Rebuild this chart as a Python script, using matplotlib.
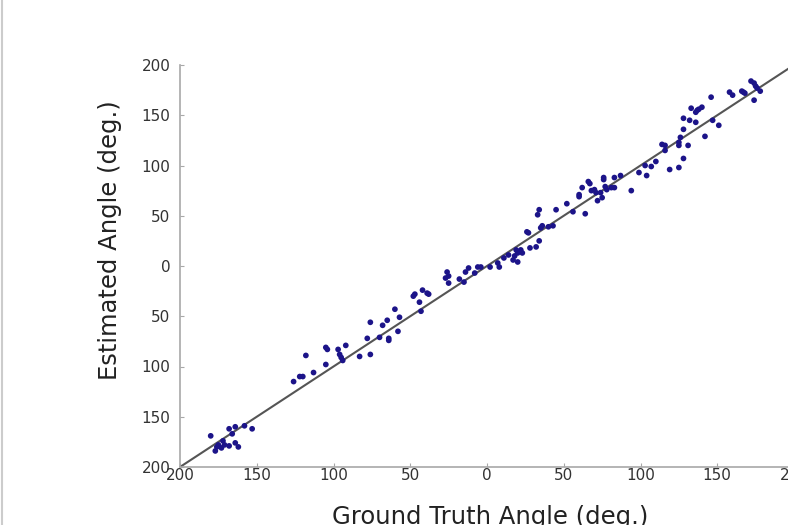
import numpy as np
import matplotlib.pyplot as plt
from matplotlib.lines import Line2D

# Data (degrees)
ground_truth = [
    -180, -168, -164, -158, -153, -166, -172, -175, -173, -177, -168, -164, -162, -171, -176,
    -126, -122, -120, -118, -113, -105, -105, -104, -97, -92, -96, -95, -94, -83, -76,
    -78, -76, -70, -64, -64, -68, -65, -60, -57, -58, -48, -47, -42, -39, -38,
    -44, -43, -26, -27, -25, -25, -18, -15, -14, -12, -8, -6, -4, 2, 7,
    8, 11, 14, 17, 18, 20, 19, 22, 23, 20, 28, 32, 34, 26, 27,
    35, 36, 40, 43, 33, 34, 45, 52, 56, 64, 60, 60, 62, 66, 67,
    68, 70, 71, 72, 74, 75, 76, 76, 77, 78, 81, 83, 83, 87, 94,
    99, 103, 104, 107, 110, 119, 125, 128, 114, 116, 116, 125, 125, 126, 131,
    128, 128, 132, 136, 133, 136, 137, 138, 140, 142, 147, 151, 146, 158, 160,
    166, 167, 168, 172, 174, 175, 176, 178, 174,
]
estimated = [
    -169, -162, -160, -159, -162, -167, -174, -178, -181, -184, -179, -176, -180, -178, -180,
    -115, -110, -110, -89, -106, -98, -81, -83, -83, -79, -88, -91, -94, -90, -88,
    -72, -56, -71, -74, -72, -59, -54, -43, -51, -65, -30, -28, -24, -27, -28,
    -36, -45, -6, -12, -10, -17, -13, -16, -6, -2, -7, -1, -1, -1, 3,
    -1, 8, 11, 6, 10, 4, 16, 16, 13, 13, 18, 19, 25, 34, 33,
    38, 40, 39, 40, 51, 56, 56, 62, 54, 52, 69, 71, 78, 84, 82,
    75, 76, 73, 65, 73, 68, 88, 86, 79, 76, 78, 78, 88, 90, 75,
    93, 100, 90, 99, 104, 96, 98, 107, 121, 120, 115, 120, 123, 128, 120,
    136, 147, 145, 143, 157, 153, 155, 156, 158, 129, 145, 140, 168, 173, 170,
    174, 173, 172, 184, 182, 179, 177, 174, 165,
]
ticks = [-200, -150, -100, -50, 0, 50, 100, 150, 200]
tick_labels = ["200", "150", "100", "50", "0", "50", "100", "150", "200"]

plt.rcParams['font.family'] = ['DejaVu Sans']

fig = plt.figure(figsize=(7.88, 5.25), dpi=100)
ax = fig.add_axes([180 / 788, 58 / 525, 614 / 788, 402 / 525])

# identity line
ax.plot([-200, 200], [-200, 200], color="#555555", lw=1.5, zorder=2)
ax.scatter(ground_truth, estimated, s=17, color="#1c1489", edgecolors="none", zorder=3)

ax.set_xlim(-200, 200)
ax.set_ylim(-200, 200)
ax.set_xticks(ticks)
ax.set_xticklabels(tick_labels)
ax.set_yticks(ticks)
ax.set_yticklabels(tick_labels)

for side in ["top", "right"]:
    ax.spines[side].set_visible(False)
for side in ["left", "bottom"]:
    ax.spines[side].set_color("#a8a8a8")
    ax.spines[side].set_linewidth(1.2)

ax.tick_params(direction="in", length=3, width=0.8, color="#a8a8a8",
               labelsize=11, labelcolor="#333333")
ax.tick_params(axis="y", pad=7)
ax.tick_params(axis="x", pad=1)

ax.set_ylabel("Estimated Angle (deg.)", fontsize=17.5, color="#222222")
ax.yaxis.set_label_coords(-0.0945, 0.565)
ax.set_xlabel("Ground Truth Angle (deg.)", fontsize=17.5, color="#222222")
ax.xaxis.set_label_coords(0.505, -0.0945)

# thin frame line at the left edge of the picture
fig.add_artist(Line2D([0.002, 0.002], [0, 1], transform=fig.transFigure,
                      color="#cccccc", lw=1.5))

fig.savefig("out.png", dpi=100)
